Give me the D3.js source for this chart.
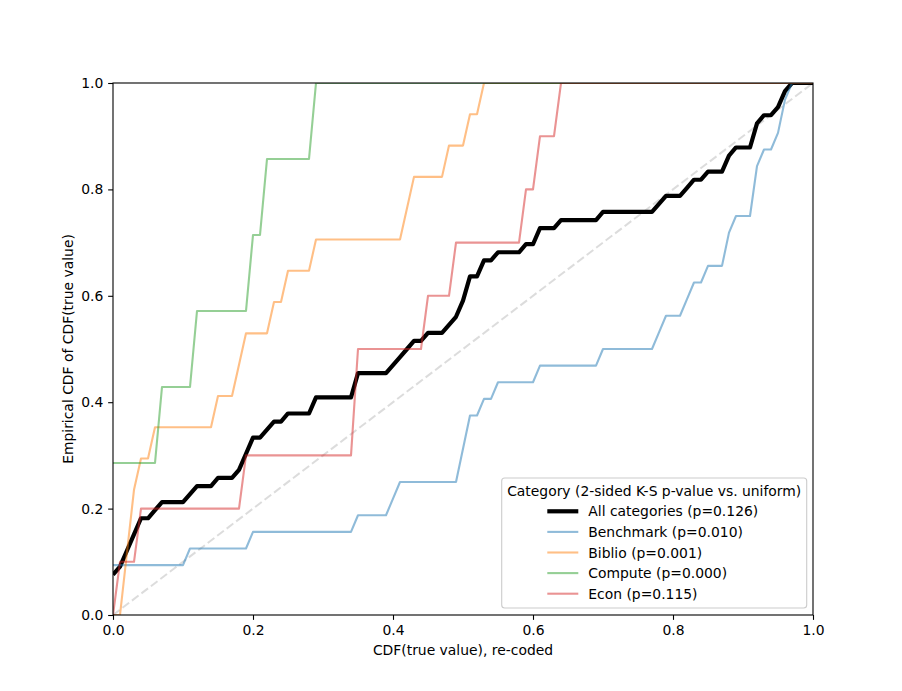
<!DOCTYPE html>
<html>
<head>
<meta charset="utf-8">
<script src="https://cdn.jsdelivr.net/npm/d3@7"></script>
<style>
  html, body { margin: 0; padding: 0; background: #fff; }
  svg { display: block; font-family: "DejaVu Sans", sans-serif; }
</style>
</head>
<body>
<svg id="chart" width="902" height="691"></svg>
<script>
const categories = ["Benchmark", "Biblio", "Compute", "Econ"];
const categoryPValues = [0.010, 0.001, 0.000, 0.115];
const allCategoriesPValue = 0.126;

const benchmarkValues = [0, 0, 0, 0.11, 0.20, 0.35, 0.40, 0.41, 0.50, 0.50, 0.51, 0.51, 0.53, 0.55, 0.61, 0.70,
                         0.78, 0.79, 0.82, 0.83, 0.85, 0.88, 0.88, 0.89, 0.92, 0.92, 0.92, 0.93, 0.95, 0.96, 0.96, 0.97];
const biblioValues = [0.02, 0.02, 0.03, 0.03, 0.04, 0.06, 0.15, 0.18, 0.19, 0.23, 0.25, 0.29, 0.42, 0.43, 0.48, 0.51, 0.53];
const computeValues = [0, 0, 0.07, 0.12, 0.20, 0.22, 0.29];
const econValues = [0.01, 0.04, 0.19, 0.35, 0.35, 0.45, 0.49, 0.59, 0.61, 0.64];

const xTicks = [0, 0.2, 0.4, 0.6, 0.8, 1.0];
const yTicks = [0, 0.2, 0.4, 0.6, 0.8, 1.0];
const gridStep = 0.01; // evaluation grid of the empirical CDF

// ---- Layout ----
const margin = { left: 113, top: 83, right: 902 - 813, bottom: 691 - 615 };
const W = 902, H = 691;
const iw = W - margin.left - margin.right;
const ih = H - margin.top - margin.bottom;
const FS = 13.9;

const colors = { Benchmark: "#1f77b4", Biblio: "#ff7f0e", Compute: "#2ca02c", Econ: "#d62728" };
const seriesValues = { Benchmark: benchmarkValues, Biblio: biblioValues, Compute: computeValues, Econ: econValues };

const svg = d3.select("#chart");
const x = d3.scaleLinear().domain([0, 1]).range([margin.left, margin.left + iw]);
const y = d3.scaleLinear().domain([0, 1]).range([margin.top + ih, margin.top]);

// ECDF evaluated on grid
const nGrid = Math.round(1 / gridStep);
const grid = d3.range(0, nGrid + 1).map(k => k * gridStep);
function ecdf(values) {
  const ks = values.map(v => Math.round(v / gridStep));
  return grid.map((g, k) => [g, ks.filter(v => v <= k).length / ks.length]);
}
const allValues = [].concat(benchmarkValues, biblioValues, computeValues, econValues);

const line = d3.line().x(d => x(d[0])).y(d => y(d[1]));

svg.append("defs").append("clipPath").attr("id", "clip")
  .append("rect").attr("x", margin.left).attr("y", margin.top).attr("width", iw).attr("height", ih);

const plot = svg.append("g").attr("clip-path", "url(#clip)");

// diagonal reference
plot.append("path")
  .attr("d", line([[0, 0], [1, 1]]))
  .attr("fill", "none")
  .attr("stroke", "#d3d3d3")
  .attr("stroke-opacity", 0.8)
  .attr("stroke-width", 2)
  .attr("stroke-dasharray", "8.3,3.6");

// all categories
plot.append("path")
  .attr("d", line(ecdf(allValues)))
  .attr("fill", "none")
  .attr("stroke", "#000")
  .attr("stroke-width", 4.2)
  .attr("stroke-linejoin", "round");

categories.forEach(c => {
  plot.append("path")
    .attr("d", line(ecdf(seriesValues[c])))
    .attr("fill", "none")
    .attr("stroke", colors[c])
    .attr("stroke-opacity", 0.5)
    .attr("stroke-width", 2.1)
    .attr("stroke-linejoin", "round");
});

// axes
const tickLen = 4.86;
const xAxis = d3.axisBottom(x).tickValues(xTicks).tickFormat(d3.format(".1f")).tickSize(tickLen).tickPadding(4.86);
const yAxis = d3.axisLeft(y).tickValues(yTicks).tickFormat(d3.format(".1f")).tickSize(tickLen).tickPadding(4.86);

const gx = svg.append("g").attr("transform", `translate(0,${margin.top + ih})`).call(xAxis);
const gy = svg.append("g").attr("transform", `translate(${margin.left},0)`).call(yAxis);
[gx, gy].forEach(g => {
  g.select(".domain").remove();
  g.selectAll("line").attr("stroke", "#000").attr("stroke-width", 1.1);
  g.selectAll("text").attr("font-size", FS).attr("fill", "#000").attr("font-family", "DejaVu Sans");
});

// spines
svg.append("rect")
  .attr("x", margin.left).attr("y", margin.top).attr("width", iw).attr("height", ih)
  .attr("fill", "none").attr("stroke", "#000").attr("stroke-width", 1.1);

// axis labels
svg.append("text")
  .attr("x", margin.left + iw / 2).attr("y", 650)
  .attr("text-anchor", "middle").attr("dominant-baseline", "central")
  .attr("font-size", FS).text("CDF(true value), re-coded");
svg.append("text")
  .attr("transform", `translate(68,${margin.top + ih / 2}) rotate(-90)`)
  .attr("text-anchor", "middle").attr("dominant-baseline", "central")
  .attr("font-size", FS).text("Empirical CDF of CDF(true value)");

// legend
const fmtP = d3.format(".3f");
const legendItems = [{ label: `All categories (p=${fmtP(allCategoriesPValue)})`, color: "#000", width: 4.2, opacity: 1 }]
  .concat(categories.map((c, i) => ({ label: `${c} (p=${fmtP(categoryPValues[i])})`, color: colors[c], width: 2.1, opacity: 0.5 })));

const lg = svg.append("g");
const lx0 = 501.7, ly0 = 478, lw = 305, lh = 130;
lg.append("rect").attr("x", lx0).attr("y", ly0).attr("width", lw).attr("height", lh)
  .attr("rx", 3).attr("fill", "#fff").attr("fill-opacity", 0.8)
  .attr("stroke", "#cccccc").attr("stroke-width", 1.1);
lg.append("text").attr("x", lx0 + lw / 2).attr("y", 491)
  .attr("text-anchor", "middle").attr("dominant-baseline", "central")
  .attr("font-size", FS).text("Category (2-sided K-S p-value vs. uniform)");
legendItems.forEach((it, i) => {
  const yy = 511.3 + i * 20.6;
  lg.append("line").attr("x1", 547.3).attr("x2", 578.3).attr("y1", yy).attr("y2", yy)
    .attr("stroke", it.color).attr("stroke-width", it.width).attr("stroke-opacity", it.opacity);
  lg.append("text").attr("x", 588.3).attr("y", yy)
    .attr("dominant-baseline", "central").attr("font-size", FS).text(it.label);
});
</script>
</body>
</html>
